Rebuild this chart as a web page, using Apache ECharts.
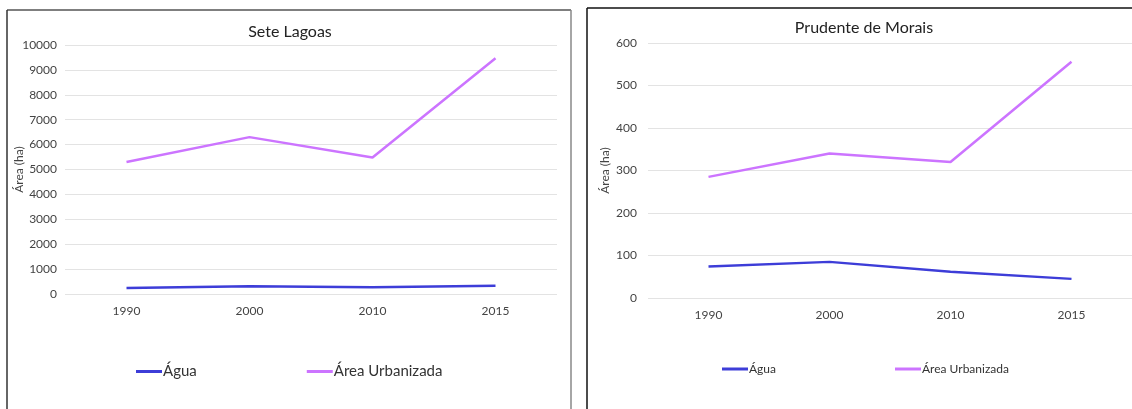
<!DOCTYPE html>
<html>
<head>
<meta charset="utf-8">
<script src="https://cdn.jsdelivr.net/npm/echarts@6/dist/echarts.min.js"></script>
<style>
  html, body { margin: 0; padding: 0; background: #fff; }
  #chart { width: 1132px; height: 409px; }
</style>
</head>
<body>
<div id="chart"></div>
<script>
// anos (categorias) e valores
const anos = ['1990', '2000', '2010', '2015'];

// Sete Lagoas
const seteAgua = [240, 310, 270, 335];
const seteUrbana = [5300, 6300, 5480, 9470];

// Prudente de Morais
const prudAgua = [74, 85, 62, 45];
const prudUrbana = [285, 340, 320, 556];

const corAgua = '#3d3dd8';
const corUrbana = '#cc74ff';
const fonte = 'Lato, "Open Sans", sans-serif';

const chart = echarts.init(document.getElementById('chart'));

function serie(name, data, color, idx) {
  return {
    name: name,
    type: 'line',
    xAxisIndex: idx,
    yAxisIndex: idx,
    data: data,
    showSymbol: false,
    symbol: 'none',
    lineStyle: { color: color, width: 2.5 },
    itemStyle: { color: color }
  };
}

function eixoY(idx, max, interval, gap, margin) {
  return {
    type: 'value', gridIndex: idx, min: 0, max: max, interval: interval,
    name: 'Área (ha)', nameLocation: 'middle', nameGap: gap, nameMoveOverlap: false,
    nameTextStyle: { color: '#444', fontSize: 12, fontFamily: fonte },
    axisLine: { show: false }, axisTick: { show: false },
    axisLabel: { color: '#444', fontSize: 12, margin: margin, fontFamily: fonte,
                 formatter: v => String(v) },
    splitLine: { lineStyle: { color: '#e3e3e3', width: 1 } }
  };
}

const option = {
  animation: false,
  textStyle: { fontFamily: fonte },
  title: [
    {
      text: 'Sete Lagoas', left: 285, top: 19, textAlign: 'center',
      textStyle: { fontSize: 16, fontWeight: 'normal', color: '#222', fontFamily: fonte }
    },
    {
      text: 'Prudente de Morais', left: 859, top: 15, textAlign: 'center',
      textStyle: { fontSize: 16, fontWeight: 'normal', color: '#222', fontFamily: fonte }
    }
  ],
  legend: [
    {
      left: 131, top: 359,
      data: ['Água', 'Área Urbanizada'],
      icon: 'rect', itemWidth: 26, itemHeight: 3, itemGap: 110,
      textStyle: { fontSize: 15, color: '#333', fontFamily: fonte, padding: [0, 0, 0, -4] }
    },
    {
      left: 717, top: 358,
      data: ['Água', 'Área Urbanizada'],
      icon: 'rect', itemWidth: 26, itemHeight: 3, itemGap: 119,
      textStyle: { fontSize: 12, color: '#333', fontFamily: fonte, padding: [0, 0, 0, -4] }
    }
  ],
  grid: [
    { left: 65, width: 492, top: 45, height: 249 },
    { left: 648, width: 484, top: 43, height: 255 }
  ],
  xAxis: [
    {
      type: 'category', gridIndex: 0, data: anos, boundaryGap: true,
      axisLine: { show: false }, axisTick: { show: false },
      axisLabel: { color: '#444', fontSize: 12, margin: 11, fontFamily: fonte }
    },
    {
      type: 'category', gridIndex: 1, data: anos, boundaryGap: true,
      axisLine: { show: false }, axisTick: { show: false },
      axisLabel: { color: '#444', fontSize: 12, margin: 11, fontFamily: fonte }
    }
  ],
  yAxis: [
    eixoY(0, 10000, 1000, 40, 8),
    eixoY(1, 600, 100, 37, 11)
  ],
  series: [
    serie('Água', seteAgua, corAgua, 0),
    serie('Área Urbanizada', seteUrbana, corUrbana, 0),
    serie('Água', prudAgua, corAgua, 1),
    serie('Área Urbanizada', prudUrbana, corUrbana, 1)
  ],
  graphic: [
    // moldura do painel da esquerda
    { type: 'line', shape: { x1: 7, y1: 10, x2: 571, y2: 10 }, style: { stroke: '#555', lineWidth: 1.5 } },
    { type: 'line', shape: { x1: 7, y1: 10, x2: 7, y2: 409 }, style: { stroke: '#333', lineWidth: 1.5 } },
    { type: 'line', shape: { x1: 571, y1: 10, x2: 571, y2: 409 }, style: { stroke: '#888', lineWidth: 1.5 } },
    // moldura do painel da direita
    { type: 'line', shape: { x1: 587, y1: 8, x2: 1132, y2: 8 }, style: { stroke: '#111', lineWidth: 1.5 } },
    { type: 'line', shape: { x1: 587, y1: 8, x2: 587, y2: 409 }, style: { stroke: '#111', lineWidth: 1.5 } }
  ]
};

chart.setOption(option);
</script>
</body>
</html>
